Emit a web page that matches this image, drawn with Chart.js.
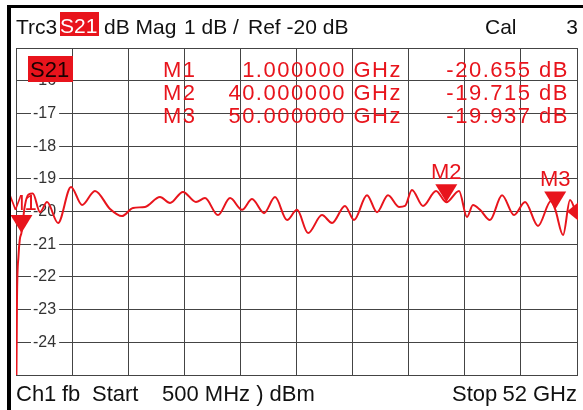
<!DOCTYPE html>
<html><head><meta charset="utf-8">
<script src="https://cdn.jsdelivr.net/npm/chart.js@4/dist/chart.umd.min.js"></script>
<style>html,body{margin:0;padding:0;background:#fff;}#wrap{width:583px;height:410px;position:relative;}</style>
</head><body><div id="wrap"><canvas id="c" width="583" height="410"></canvas></div>
<script>
// ---- data ----
const freqGHz = [0.50,0.59,0.73,0.85,1.00,1.30,1.65,2.05,2.70,3.35,4.36,5.55,6.56,7.75,9.13,10.23,11.24,12.34,13.72,14.64,15.83,17.02,17.85,19.04,20.15,21.25,22.17,23.27,24.28,25.38,26.30,27.31,28.59,29.51,30.70,31.53,32.72,33.64,34.65,35.66,36.21,36.85,37.86,39.06,40.00,41.17,41.90,42.45,43.10,44.01,45.12,46.22,47.23,48.42,49.61,50.00,50.72,51.36,52.00];
const s21dB = [-27.0,-22.7,-21.35,-20.85,-20.655,-19.85,-19.48,-19.45,-20.02,-19.71,-20.35,-19.25,-19.80,-19.37,-19.92,-20.14,-19.89,-19.86,-19.56,-19.74,-19.40,-19.71,-19.59,-20.11,-19.59,-19.95,-19.62,-20.05,-19.56,-20.26,-19.95,-20.66,-20.11,-20.35,-19.83,-20.26,-19.50,-20.02,-19.50,-19.86,-19.83,-19.34,-19.83,-19.37,-19.715,-19.37,-20.17,-19.80,-19.95,-20.26,-19.50,-20.11,-19.71,-20.44,-19.68,-19.937,-20.72,-19.65,-20.14];
const yTicks = [-15,-16,-17,-18,-19,-20,-21,-22,-23,-24,-25];
const markerNames = ['M1','M2','M3'];
const markerFreqGHz = [1, 40, 50];
const markerDB = [-20.655, -19.715, -19.937];
const markerFreqText = ['1.000000 GHz','40.000000 GHz','50.000000 GHz'];
const markerValueText = ['-20.655 dB','-19.715 dB','-19.937 dB'];
const startGHz = 0.5, stopGHz = 52, refDB = -20, divisions = 10;
const headerTokens = ['Trc3','S21','dB Mag','1 dB /','Ref -20 dB','Cal','3'];
const footerTokens = ['Ch1','fb','Start','500 MHz ) dBm','Stop','52 GHz'];

const RED = '#e8141c';
const FONT = '"Liberation Sans", Arial, sans-serif';
const xGrid = [];
for (let i = 0; i <= divisions; i++) xGrid.push(startGHz + (stopGHz - startGHz) * i / divisions);

const overlay = {
  id: 'overlay',
  afterDatasetsDraw(chart) {
    const ctx = chart.ctx, xs = chart.scales.x, ys = chart.scales.y;
    ctx.save();
    ctx.fillStyle = RED;
    markerFreqGHz.forEach((f, i) => {
      const px = xs.getPixelForValue(f), py = ys.getPixelForValue(markerDB[i]);
      ctx.beginPath(); ctx.moveTo(px, py); ctx.lineTo(px - 11, py - 18); ctx.lineTo(px + 11, py - 18); ctx.closePath(); ctx.fill();
      ctx.font = '22px ' + FONT; ctx.textAlign = 'center'; ctx.textBaseline = 'alphabetic';
      ctx.fillText(markerNames[i], px, py - 23);
    });
    const ry = ys.getPixelForValue(refDB), rx = chart.chartArea.right;
    ctx.beginPath(); ctx.moveTo(rx - 10, ry); ctx.lineTo(rx + 1, ry - 9); ctx.lineTo(rx + 1, ry + 9); ctx.closePath(); ctx.fill();
    ctx.restore();
  },
  afterDraw(chart) {
    const ctx = chart.ctx;
    ctx.save();
    ctx.fillStyle = '#000';
    ctx.fillRect(7, 5, 576, 3);
    ctx.fillRect(7, 5, 4, 405);
    // in-plot S21 box
    ctx.fillStyle = RED; ctx.fillRect(28, 56, 45, 26);
    ctx.fillStyle = '#1a0000'; ctx.font = '22px ' + FONT; ctx.textAlign = 'left'; ctx.textBaseline = 'alphabetic';
    ctx.fillText('S21', 30, 77);
    // header
    ctx.font = '21px ' + FONT; ctx.fillStyle = '#111';
    ctx.fillText(headerTokens[0], 16, 34);
    ctx.fillStyle = RED; ctx.fillRect(60, 12, 39, 24);
    ctx.fillStyle = '#fff'; ctx.fillText(headerTokens[1], 60, 33);
    ctx.fillStyle = '#111';
    ctx.fillText(headerTokens[2], 104, 34);
    ctx.fillText(headerTokens[3], 184, 34);
    ctx.fillText(headerTokens[4], 248, 34);
    ctx.fillText(headerTokens[5], 485, 34);
    ctx.textAlign = 'right'; ctx.fillText(headerTokens[6], 578, 34);
    // marker table
    ctx.fillStyle = RED; ctx.font = '22px ' + FONT;
    try { ctx.letterSpacing = '1.5px'; } catch (e) {}
    const rows = [77, 100, 123];
    markerNames.forEach((n, i) => {
      ctx.textAlign = 'left'; ctx.fillText(n, 163, rows[i]);
      ctx.textAlign = 'right'; ctx.fillText(markerFreqText[i], 402, rows[i]);
      ctx.fillText(markerValueText[i], 569, rows[i]);
    });
    try { ctx.letterSpacing = '0px'; } catch (e) {}
    // footer
    ctx.fillStyle = '#111'; ctx.font = '22px ' + FONT; ctx.textAlign = 'left';
    ctx.fillText(footerTokens[0], 16, 401);
    ctx.fillText(footerTokens[1], 62, 401);
    ctx.fillText(footerTokens[2], 92, 401);
    ctx.fillText(footerTokens[3], 162, 401);
    ctx.fillText(footerTokens[4], 452, 401);
    ctx.textAlign = 'right'; ctx.fillText(footerTokens[5], 577, 401);
    ctx.restore();
  }
};

new Chart(document.getElementById('c'), {
  type: 'line',
  data: {
    datasets: [{
      data: freqGHz.map((f, i) => ({ x: f, y: s21dB[i] })),
      borderColor: RED, borderWidth: 2, pointRadius: 0,
      cubicInterpolationMode: 'monotone', fill: false
    }]
  },
  options: {
    responsive: false, animation: false, devicePixelRatio: 1,
    layout: { padding: { left: 16, right: 6, top: 48, bottom: 35 } },
    plugins: { legend: { display: false }, tooltip: { enabled: false } },
    scales: {
      x: {
        type: 'linear', min: startGHz, max: stopGHz,
        afterBuildTicks: s => { s.ticks = xGrid.map(v => ({ value: v })); },
        ticks: { display: false },
        grid: { color: '#444', lineWidth: 1, drawTicks: false },
        border: { color: '#444', width: 1 }
      },
      y: {
        type: 'linear', min: -25, max: -15,
        afterBuildTicks: s => { s.ticks = yTicks.map(v => ({ value: v })); },
        afterFit: s => { s.width = 0; },
        ticks: {
          mirror: true, padding: 17, color: '#333',
          font: { family: FONT, size: 16 },
          callback: v => (v === -15 || v === -25) ? '' : String(v),
          showLabelBackdrop: c => c.tick && c.tick.value !== -15 && c.tick.value !== -25,
          backdropColor: '#fff', backdropPadding: { top: 0, bottom: 0, left: 2, right: 3 }
        },
        grid: { color: '#444', lineWidth: 1, drawTicks: false },
        border: { color: '#444', width: 1 }
      }
    }
  },
  plugins: [overlay]
});
</script></body></html>
